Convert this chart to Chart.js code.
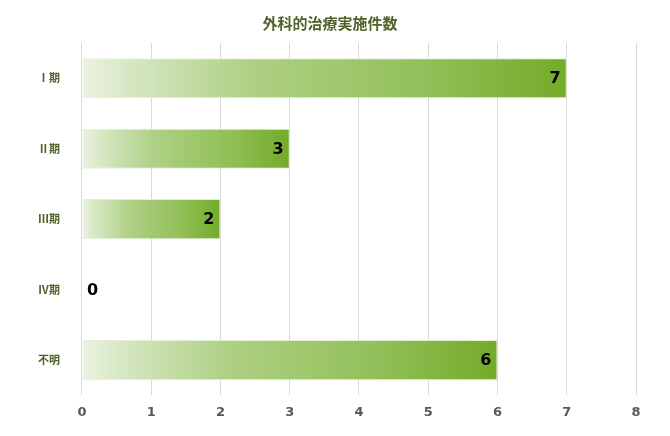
<!DOCTYPE html>
<html>
<head>
<meta charset="utf-8">
<script src="https://cdn.jsdelivr.net/npm/chart.js@4"></script>
<style>
  html, body { margin: 0; padding: 0; background: #fff; }
  #wrap { width: 670px; height: 436px; }
</style>
</head>
<body>
<div id="wrap"><canvas id="myChart"></canvas></div>
<script>
const labels = ['Ⅰ期', 'Ⅱ期', 'Ⅲ期', 'Ⅳ期', '不明'];
const counts = [7, 3, 2, 0, 6];
const xTicks = [0, 1, 2, 3, 4, 5, 6, 7, 8];

const cjkFont = "'Noto Sans CJK JP', 'Noto Sans', sans-serif";
const numFont = "'DejaVu Sans', Verdana, sans-serif";

// each bar fades from near white at the base to green at its own end
function barGradient(context) {
   const chart = context.chart;
   if (!chart.chartArea || context.type !== 'data') return '#9cc46a';
   const xs = chart.scales.x;
   const x0 = xs.getPixelForValue(0);
   const x1 = xs.getPixelForValue(context.parsed.x);
   if (x1 - x0 < 1) return '#9cc46a';
   const g = chart.ctx.createLinearGradient(x0, 0, x1, 0);
   g.addColorStop(0, '#ebf2e2');
   g.addColorStop(0.1, '#d6e7c2');
   g.addColorStop(0.35, '#aed084');
   g.addColorStop(0.7, '#93c05a');
   g.addColorStop(1, '#74ab28');
   return g;
}

const valueLabels = {
   id: 'valueLabels',
   afterDatasetsDraw(chart) {
      const ctx = chart.ctx;
      const meta = chart.getDatasetMeta(0);
      ctx.save();
      ctx.font = "bold 16px " + numFont;
      ctx.fillStyle = '#000';
      ctx.textBaseline = 'middle';
      meta.data.forEach((bar, i) => {
         const v = counts[i];
         if (v > 0) {
            ctx.textAlign = 'right';
            ctx.fillText(String(v), bar.x - 6, bar.y + 1);
         } else {
            ctx.textAlign = 'left';
            ctx.fillText(String(v), bar.x + 5, bar.y + 1);
         }
      });
      ctx.restore();
   }
};

const data = {
   labels: labels,
   datasets: [
      {
         label: '件数',
         data: counts,
         backgroundColor: barGradient,
         borderColor: '#e4efd8',
         borderWidth: 1,
         barPercentage: 0.57,
         categoryPercentage: 1.0,
      },
   ],
};

const config = {
   type: 'bar',
   data: data,
   plugins: [valueLabels],
   options: {
      indexAxis: 'y',
      responsive: true,
      maintainAspectRatio: false,
      animation: false,
      layout: { padding: { left: 24, right: 34, top: 14, bottom: 7 } },
      plugins: {
         legend: { display: false },
         tooltip: { enabled: false },
         title: {
            display: true,
            text: '外科的治療実施件数',
            color: '#4f6228',
            font: { family: cjkFont, size: 15, weight: 'bold' },
            padding: { top: 0, bottom: 11 },
         },
      },
      scales: {
         x: {
            min: 0,
            max: 8,
            afterBuildTicks(axis) {
               axis.ticks = xTicks.map(v => ({ value: v }));
            },
            grid: { color: '#d9d9d9', lineWidth: 1, drawTicks: false },
            border: { display: false },
            ticks: {
               color: '#595959',
               padding: 9,
               font: { family: numFont, size: 13, weight: 'bold' },
            },
         },
         y: {
            grid: { display: false },
            border: { display: false },
            ticks: {
               color: '#4f6228',
               padding: 14,
               font: { family: cjkFont, size: 11, weight: 'bold' },
            },
         },
      },
   },
};
const myChart = new Chart(document.getElementById('myChart'), config);
</script>
</body>
</html>
